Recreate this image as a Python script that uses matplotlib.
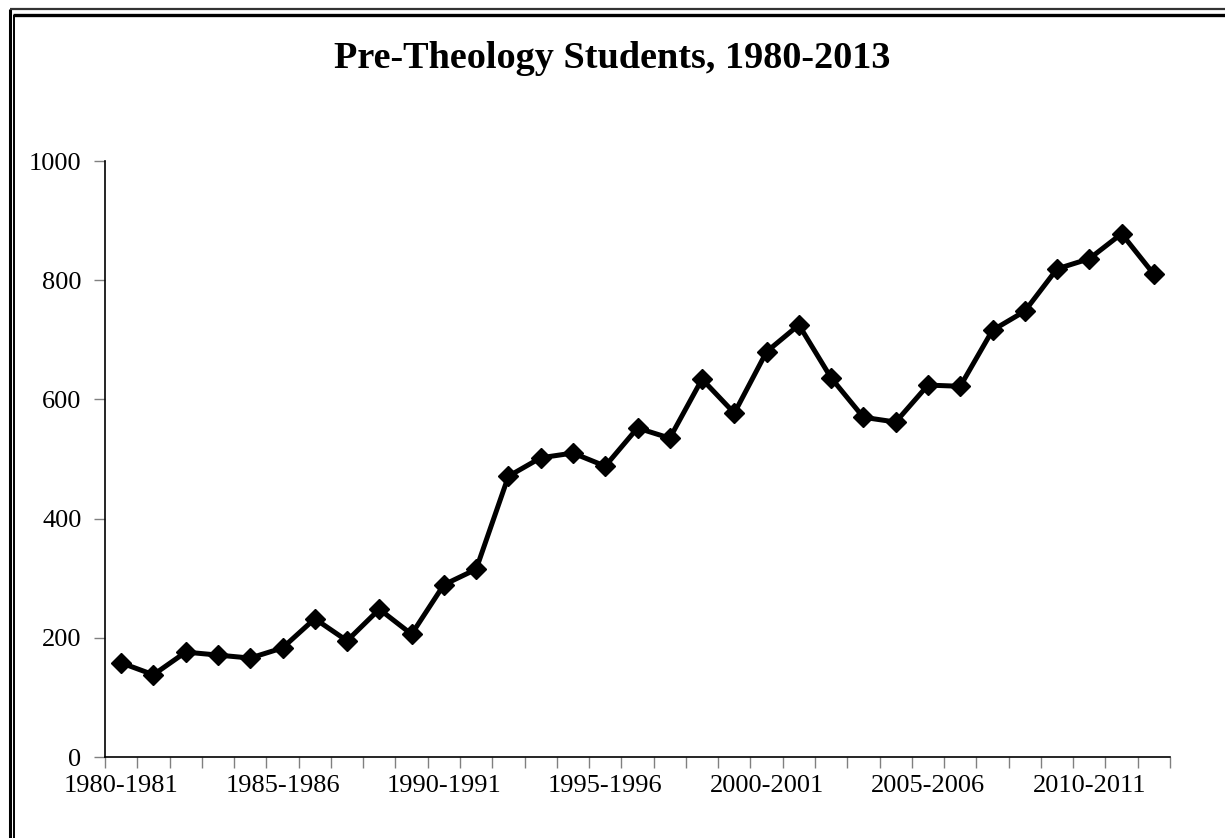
import matplotlib
matplotlib.use("Agg")
import matplotlib.pyplot as plt
from matplotlib.lines import Line2D
import numpy as np

years = [f"{y}-{y+1}" for y in range(1980, 2013)]
students = [158, 138, 176, 171, 166, 183, 232, 195, 248, 206, 289, 315,
            471, 502, 510, 488, 552, 535, 634, 577, 680, 725, 636, 570,
            562, 624, 622, 716, 748, 819, 836, 878, 810]
title = "Pre-Theology Students, 1980-2013"
yticks = [0, 200, 400, 600, 800, 1000]

plt.rcParams['font.family'] = ['Liberation Serif', 'DejaVu Serif']

W, H = 1225, 838
fig = plt.figure(figsize=(W / 100, H / 100), dpi=100)
ax = fig.add_axes([105 / W, 1 - 757 / H, (1170 - 105) / W, (757 - 161) / H])

x = np.arange(len(students))
ax.plot(x, students, color='black', lw=3.6, marker='D', ms=10, mfc='black', mec='black',
        clip_on=False)

ax.set_xlim(-0.5, len(students) - 0.5)
ax.set_ylim(0, 1000)
ax.set_yticks(yticks)
ax.set_yticklabels([str(v) for v in yticks], fontsize=19)
ax.tick_params(axis='y', length=8, color='#808080', width=1, pad=9)

ax.set_xticks(np.arange(len(students) + 1) - 0.5)
ax.set_xticklabels([])
ax.tick_params(axis='x', which='major', length=8, color='#808080', width=1)
ax.set_xticks(x[::5], minor=True)
ax.set_xticklabels([years[i] for i in x[::5]], minor=True, fontsize=19)
ax.tick_params(axis='x', which='minor', length=0, pad=13)

for s in ['top', 'right']:
    ax.spines[s].set_visible(False)
for s in ['left', 'bottom']:
    ax.spines[s].set_color('black')
    ax.spines[s].set_linewidth(1.2)

fig.text(612 / W, 1 - 59 / H, title, ha='center', va='center', fontsize=27.5, fontweight='bold')

# double frame (top and left)
def fl(xs, ys, lw, c):
    fig.add_artist(Line2D([v / W for v in xs], [1 - v / H for v in ys], lw=lw, color=c,
                          transform=fig.transFigure, solid_capstyle='butt'))

fl([9.5, 9.5], [9.5, H], 2.2, 'black')
fl([9.5, W], [9.5, 9.5], 1.6, '#333333')
fl([14, 14], [15, H], 1.4, 'black')
fl([13.3, W], [15, 15], 2.4, 'black')

fig.savefig("out.png", dpi=100)
